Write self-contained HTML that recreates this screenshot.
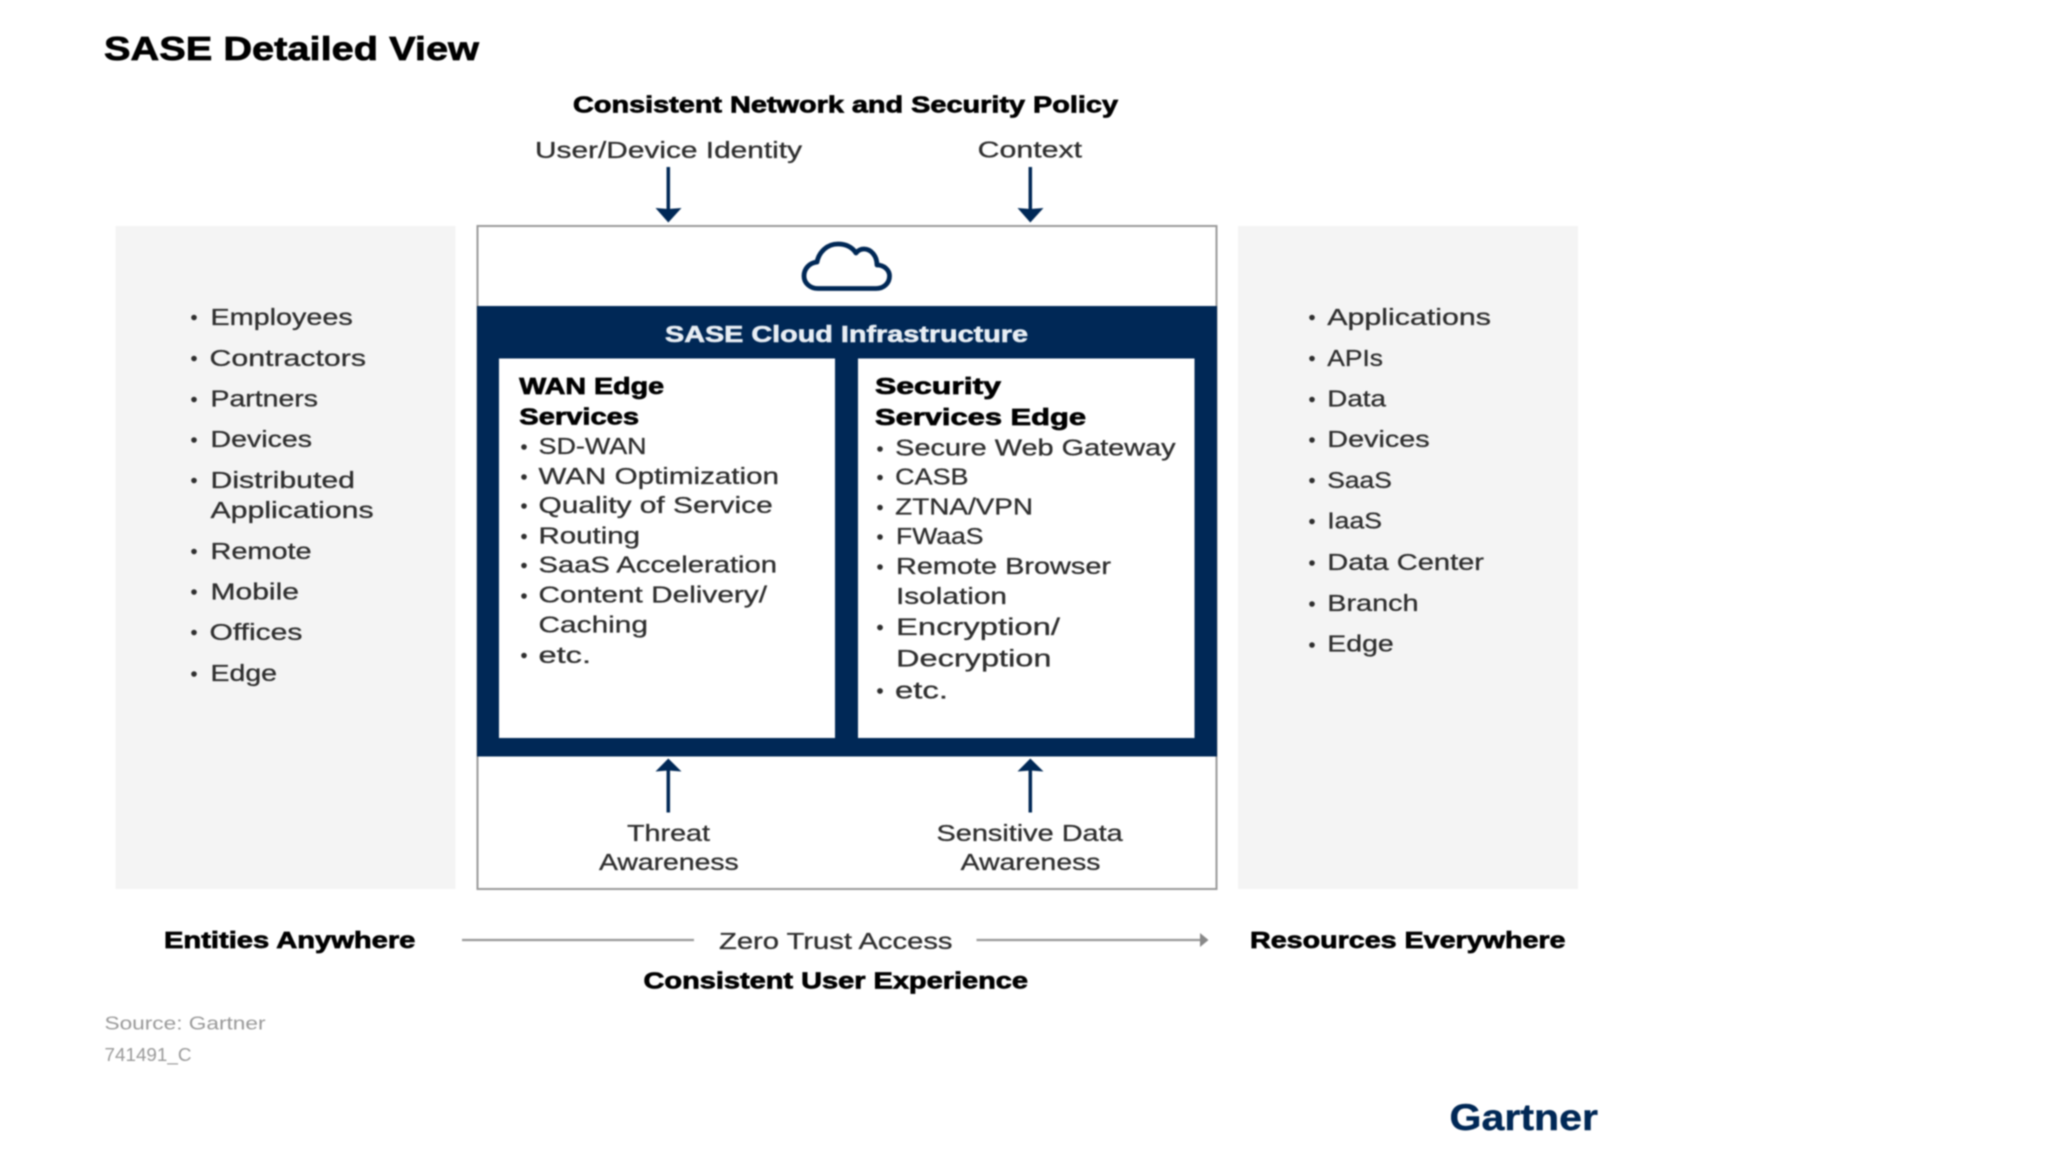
<!DOCTYPE html>
<html lang="en">
<head>
<meta charset="utf-8">
<title>SASE Detailed View</title>
<style>
html,body{margin:0;padding:0;background:#fff;width:2048px;height:1152px;overflow:hidden}
svg{display:block;filter:blur(.75px)}
text{font-family:"Liberation Sans",Arial,sans-serif;font-size:23px;fill:#2e2e2e;stroke:#2e2e2e;stroke-width:.3px}
.b{font-weight:700;fill:#000;stroke:#000;stroke-width:.7px}
.s{font-size:18.5px;fill:#999;stroke:none}
circle{fill:#2e2e2e}
</style>
</head>
<body>
<svg width="2048" height="1152" viewBox="0 0 2048 1152" xmlns="http://www.w3.org/2000/svg">
<rect width="2048" height="1152" fill="#fff"/>
<text class="b" x="104" y="60" style="font-size:33px" textLength="375" lengthAdjust="spacingAndGlyphs">SASE Detailed View</text>
<text class="b" x="573" y="112.500" textLength="545" lengthAdjust="spacingAndGlyphs">Consistent Network and Security Policy</text>
<text x="535" y="158" textLength="267" lengthAdjust="spacingAndGlyphs">User/Device Identity</text>
<text x="977.700" y="157.500" textLength="104.300" lengthAdjust="spacingAndGlyphs">Context</text>

<!-- side panels -->
<rect x="115.500" y="226" width="340" height="663" fill="#f4f4f4"/>
<rect x="1238" y="226" width="340" height="663" fill="#f4f4f4"/>

<!-- centre box -->
<rect x="477.500" y="226" width="739" height="663" fill="#fff" stroke="#9a9a9a" stroke-width="2"/>
<rect x="477" y="306" width="740" height="450.500" fill="#002856"/>
<rect x="499" y="358.500" width="336" height="379.500" fill="#fff"/>
<rect x="858" y="358.500" width="336.500" height="379.500" fill="#fff"/>

<!-- cloud -->
<path d="M818 288.500 H876 C884 288.500 889.500 283 889.500 276 C889.500 270 884 265 877 265 C877 256 871 249 864 249 C861 249 858 250.500 856 253 C852 247 846 244 838 244 C827 244 819 252 817 262 C809 263 804 269 804 276 C804 283 810 288.500 818 288.500 Z" fill="none" stroke="#002856" stroke-width="4.800" stroke-linejoin="round"/>

<!-- arrows down -->
<path d="M668.300 167 V212" stroke="#002856" stroke-width="3.500"/>
<path d="M655.500 208 L668.300 209 L681.500 208 L668.300 222.500 Z" fill="#002856"/>
<path d="M1030.300 167 V212" stroke="#002856" stroke-width="3.500"/>
<path d="M1017.500 208 L1030.300 209 L1043.500 208 L1030.300 222.500 Z" fill="#002856"/>
<!-- arrows up -->
<path d="M668.300 767 V812.500" stroke="#002856" stroke-width="3.500"/>
<path d="M655.500 771.500 L668.300 770.500 L681.500 771.500 L668.300 758.500 Z" fill="#002856"/>
<path d="M1030.300 767 V812.500" stroke="#002856" stroke-width="3.500"/>
<path d="M1017.500 771.500 L1030.300 770.500 L1043.500 771.500 L1030.300 758.500 Z" fill="#002856"/>

<text x="665" y="342" style="font-weight:700;fill:#e8eef4;stroke:#e8eef4;stroke-width:.6px" textLength="363" lengthAdjust="spacingAndGlyphs">SASE Cloud Infrastructure</text>

<!-- left panel -->
<circle cx="194" cy="317.500" r="2.800"/><text x="210.500" y="325" textLength="142.200" lengthAdjust="spacingAndGlyphs">Employees</text>
<circle cx="194" cy="358.500" r="2.800"/><text x="209.500" y="366" textLength="156.500" lengthAdjust="spacingAndGlyphs">Contractors</text>
<circle cx="194" cy="399.500" r="2.800"/><text x="210.500" y="406.500" textLength="107.500" lengthAdjust="spacingAndGlyphs">Partners</text>
<circle cx="194" cy="440" r="2.800"/><text x="210.500" y="447" textLength="101.500" lengthAdjust="spacingAndGlyphs">Devices</text>
<circle cx="194" cy="480.500" r="2.800"/><text x="210.500" y="488" textLength="144.500" lengthAdjust="spacingAndGlyphs">Distributed</text>
<text x="210.500" y="518" textLength="163.100" lengthAdjust="spacingAndGlyphs">Applications</text>
<circle cx="194" cy="551.500" r="2.800"/><text x="210.500" y="559" textLength="101.100" lengthAdjust="spacingAndGlyphs">Remote</text>
<circle cx="194" cy="592" r="2.800"/><text x="210.500" y="599.500" textLength="88.500" lengthAdjust="spacingAndGlyphs">Mobile</text>
<circle cx="194" cy="632.500" r="2.800"/><text x="209.500" y="640" textLength="92.900" lengthAdjust="spacingAndGlyphs">Offices</text>
<circle cx="194" cy="674" r="2.800"/><text x="210.500" y="681" textLength="66.500" lengthAdjust="spacingAndGlyphs">Edge</text>

<!-- right panel -->
<circle cx="1312" cy="317.500" r="2.800"/><text x="1327.300" y="325" textLength="163.700" lengthAdjust="spacingAndGlyphs">Applications</text>
<circle cx="1312" cy="358.500" r="2.800"/><text x="1327.300" y="366" textLength="55.700" lengthAdjust="spacingAndGlyphs">APIs</text>
<circle cx="1312" cy="399.500" r="2.800"/><text x="1327.300" y="406.500" textLength="58.700" lengthAdjust="spacingAndGlyphs">Data</text>
<circle cx="1312" cy="440" r="2.800"/><text x="1327.300" y="447" textLength="102.300" lengthAdjust="spacingAndGlyphs">Devices</text>
<circle cx="1312" cy="480.500" r="2.800"/><text x="1327.300" y="488" textLength="64.500" lengthAdjust="spacingAndGlyphs">SaaS</text>
<circle cx="1312" cy="521.500" r="2.800"/><text x="1327.300" y="528.500" textLength="54.700" lengthAdjust="spacingAndGlyphs">IaaS</text>
<circle cx="1312" cy="563" r="2.800"/><text x="1327.300" y="570" textLength="156.700" lengthAdjust="spacingAndGlyphs">Data Center</text>
<circle cx="1312" cy="604" r="2.800"/><text x="1327.300" y="611" textLength="91.200" lengthAdjust="spacingAndGlyphs">Branch</text>
<circle cx="1312" cy="645" r="2.800"/><text x="1327.300" y="651.500" textLength="66.400" lengthAdjust="spacingAndGlyphs">Edge</text>

<!-- WAN Edge -->
<text class="b" x="519.300" y="394" textLength="144.700" lengthAdjust="spacingAndGlyphs">WAN Edge</text>
<text class="b" x="519.300" y="424.500" textLength="119.700" lengthAdjust="spacingAndGlyphs">Services</text>
<circle cx="524" cy="447" r="2.800"/><text x="538.500" y="454" textLength="108.100" lengthAdjust="spacingAndGlyphs">SD-WAN</text>
<circle cx="524" cy="477" r="2.800"/><text x="538.500" y="484" textLength="240.500" lengthAdjust="spacingAndGlyphs">WAN Optimization</text>
<circle cx="524" cy="506" r="2.800"/><text x="538.500" y="513" textLength="234.200" lengthAdjust="spacingAndGlyphs">Quality of Service</text>
<circle cx="524" cy="536.500" r="2.800"/><text x="538.500" y="543.500" textLength="101.500" lengthAdjust="spacingAndGlyphs">Routing</text>
<circle cx="524" cy="565.500" r="2.800"/><text x="538.500" y="572.400" textLength="238.500" lengthAdjust="spacingAndGlyphs">SaaS Acceleration</text>
<circle cx="524" cy="596" r="2.800"/><text x="538.500" y="602.500" textLength="228.500" lengthAdjust="spacingAndGlyphs">Content Delivery/</text>
<text x="538.500" y="632.500" textLength="109.500" lengthAdjust="spacingAndGlyphs">Caching</text>
<circle cx="524" cy="655.500" r="2.800"/><text x="538.500" y="663" textLength="52.500" lengthAdjust="spacingAndGlyphs">etc.</text>

<!-- Security Services Edge -->
<text class="b" x="875" y="394" textLength="126" lengthAdjust="spacingAndGlyphs">Security</text>
<text class="b" x="875" y="425" textLength="211" lengthAdjust="spacingAndGlyphs">Services Edge</text>
<circle cx="880" cy="449" r="2.800"/><text x="895.200" y="455.500" textLength="280.400" lengthAdjust="spacingAndGlyphs">Secure Web Gateway</text>
<circle cx="880" cy="477.500" r="2.800"/><text x="895.200" y="484.500" textLength="73.300" lengthAdjust="spacingAndGlyphs">CASB</text>
<circle cx="880" cy="507.500" r="2.800"/><text x="895.200" y="514.500" textLength="137.800" lengthAdjust="spacingAndGlyphs">ZTNA/VPN</text>
<circle cx="880" cy="537" r="2.800"/><text x="896" y="544" textLength="87.500" lengthAdjust="spacingAndGlyphs">FWaaS</text>
<circle cx="880" cy="567" r="2.800"/><text x="896" y="574" textLength="215" lengthAdjust="spacingAndGlyphs">Remote Browser</text>
<text x="896" y="604" textLength="111" lengthAdjust="spacingAndGlyphs">Isolation</text>
<circle cx="880" cy="627.500" r="2.900"/><text x="896" y="635" style="font-size:24.500px" textLength="164" lengthAdjust="spacingAndGlyphs">Encryption/</text>
<text x="896" y="666.400" style="font-size:24.500px" textLength="155.500" lengthAdjust="spacingAndGlyphs">Decryption</text>
<circle cx="880" cy="691" r="2.900"/><text x="895" y="698.700" style="font-size:24.500px" textLength="53" lengthAdjust="spacingAndGlyphs">etc.</text>

<!-- awareness labels -->
<text x="627" y="841" textLength="83" lengthAdjust="spacingAndGlyphs">Threat</text>
<text x="599" y="870" textLength="139.700" lengthAdjust="spacingAndGlyphs">Awareness</text>
<text x="936.500" y="841" textLength="186.200" lengthAdjust="spacingAndGlyphs">Sensitive Data</text>
<text x="960.700" y="870" textLength="139.800" lengthAdjust="spacingAndGlyphs">Awareness</text>

<!-- bottom row -->
<text class="b" x="164" y="948" textLength="251.400" lengthAdjust="spacingAndGlyphs">Entities Anywhere</text>
<path d="M462 940 H694" stroke="#999" stroke-width="2.200"/>
<text x="719" y="949" textLength="233.500" lengthAdjust="spacingAndGlyphs">Zero Trust Access</text>
<path d="M976.500 940 H1202" stroke="#999" stroke-width="2.200"/>
<path d="M1200 933 L1208.500 940 L1200 947 Z" fill="#888"/>
<text class="b" x="1250" y="948" textLength="315.500" lengthAdjust="spacingAndGlyphs">Resources Everywhere</text>
<text class="b" x="643.500" y="988.300" textLength="384.500" lengthAdjust="spacingAndGlyphs">Consistent User Experience</text>

<text class="s" x="104.500" y="1029.700" textLength="161" lengthAdjust="spacingAndGlyphs">Source: Gartner</text>
<text class="s" x="104.500" y="1061" textLength="87" lengthAdjust="spacingAndGlyphs">741491_C</text>

<text x="1449.500" y="1130" style="font-size:37px;font-weight:700;fill:#002856;stroke:#002856;stroke-width:.4px" textLength="148.500" lengthAdjust="spacingAndGlyphs">Gartner</text>
</svg>
</body>
</html>
